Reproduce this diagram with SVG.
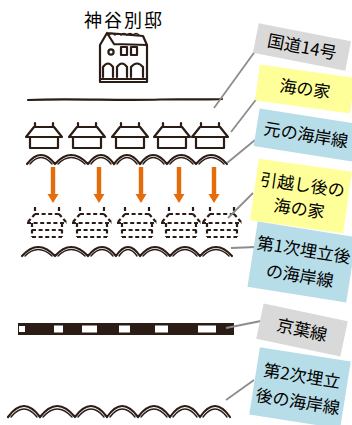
<svg xmlns="http://www.w3.org/2000/svg" width="352" height="425" viewBox="0 0 352 425">
  <style>
    .ink { fill: none; stroke: #2b1d16; stroke-width: 2.2; stroke-linecap: round; stroke-linejoin: round; }
    .thin { fill: none; stroke: #2b1d16; stroke-width: 1.4; stroke-linecap: round; }
    .dash { fill: none; stroke: #2b1d16; stroke-width: 2.2; stroke-dasharray: 4 2.6; stroke-linecap: butt; }
    .lead { fill: none; stroke: #8c8c8c; stroke-width: 1.8; }
    .arrow { fill: #e46c0a; }
    .lbl { font-family: "Noto Sans CJK JP", "Noto Sans", sans-serif; font-size: 17px; fill: #000; text-anchor: middle; }
    .gray { fill: #d9d9d9; }
    .yel { fill: #ffff99; }
    .blue { fill: #b7dde8; }
  </style>
  <defs>
    <!-- beach hut drawn with solid strokes -->
    <g id="hut">
      <path class="ink" d="M-9,123 L-9,127 M9,123 L9,127 M-10,127 L10,127 M-10,127 L-18,137 M10,127 L18,137 M-18,137 L18,137 M-14,137 L-14,148 M14,137 L14,148 M-14,148 L14,148"/>
    </g>
    <!-- relocated beach hut drawn dashed -->
    <g id="hutDash">
      <path class="dash" d="M-12,207 L-12,214 M12,207 L12,214 M-12,214 L12,214 M-12,214 L-20,223 M12,214 L20,223 M-20,223 L20,223 M-15,223 L-15,237 M15,223 L15,237 M-15,230 L15,230 M-15,237 L15,237"/>
    </g>
    <g id="arr">
      <rect x="-2.2" y="167" width="4.4" height="28" class="arrow"/>
      <polygon points="-5.5,194 5.5,194 0,203" class="arrow"/>
    </g>
  </defs>

  <rect width="352" height="425" fill="#fff"/>

  <!-- villa -->
  <g id="villa">
    <text x="124" y="27" font-family="Noto Sans CJK JP, sans-serif" font-size="18" letter-spacing="2" text-anchor="middle" fill="#000">神谷別邸</text>
    <path class="ink" d="M100,82 L100,45 L107,33 L114,44 M107,33 L143,36 L147,45 L147,82 M114,44 L147,45 M100,82 L147,82 M100,79 L147,79"/>
    <path class="thin" d="M109,35 q3,-3 6,0 q3,-3 6,0 q3,-3 6,0 q3,-3 6,0 q3,-3 6,0"/>
    <circle cx="111" cy="52" r="2.6" class="ink"/>
    <rect x="121" y="47" width="6" height="8" class="ink"/>
    <rect x="131" y="47" width="6" height="8" class="ink"/>
    <path class="ink" d="M103,77 L103,67 Q108,60 113,67 L113,77 M117,77 L117,67 Q122,60 127,67 L127,77 M131,77 L131,67 Q137,60 143,67 L143,77"/>
  </g>

  <!-- national road 14 -->
  <g id="road">
    <path class="ink" d="M28,100 C70,98 120,101 160,99.5 C190,99 210,100 222,99" stroke-width="2.6"/>
  </g>

  <!-- beach huts, original position -->
  <g id="huts">
    <use href="#hut" x="44"/>
    <use href="#hut" x="87"/>
    <use href="#hut" x="130"/>
    <use href="#hut" x="172"/>
    <use href="#hut" x="210"/>
  </g>

  <!-- original shoreline -->
  <g id="shore0">
    <path class="ink" d="M27,164 Q41,146 55,164 Q71,146 88,164 Q101,146 114,164 Q127,146 140,164 Q153,146 167,164 Q181,146 196,164 Q211,146 227,164"/>
    <path class="thin" d="M30,164 Q41,151 52,164 M58,164 Q71,151 85,164 M91,164 Q101,151 111,164 M117,164 Q127,151 137,164 M143,164 Q153,151 164,164 M170,164 Q181,151 193,164 M199,164 Q211,151 224,164"/>
  </g>

  <!-- relocation arrows -->
  <g id="arrows">
    <use href="#arr" x="53"/>
    <use href="#arr" x="99"/>
    <use href="#arr" x="141"/>
    <use href="#arr" x="179"/>
    <use href="#arr" x="214"/>
  </g>

  <!-- beach huts after relocation -->
  <g id="hutsMoved">
    <use href="#hutDash" x="47"/>
    <use href="#hutDash" x="92"/>
    <use href="#hutDash" x="137"/>
    <use href="#hutDash" x="181"/>
    <use href="#hutDash" x="222"/>
  </g>

  <!-- shoreline after first reclamation -->
  <g id="shore1">
    <path class="ink" d="M22,256 Q38,238 55,256 Q71,238 88,256 Q102,238 116,256 Q128,238 140,256 Q155,238 170,256 Q185,238 200,256 Q216,238 232,256"/>
    <path class="thin" d="M25,256 Q38,243 52,256 M58,256 Q71,243 85,256 M91,256 Q102,243 113,256 M119,256 Q128,243 137,256 M143,256 Q155,243 167,256 M173,256 Q185,243 197,256 M203,256 Q216,243 229,256"/>
  </g>

  <!-- Keiyo line -->
  <g id="rail">
    <rect x="18" y="323" width="216" height="12" fill="#2b1d16"/>
    <rect x="19" y="326" width="6" height="6" fill="#fff"/>
    <rect x="54" y="325.5" width="9" height="7" fill="#fff"/>
    <rect x="82" y="325.5" width="15" height="7" fill="#fff"/>
    <rect x="119" y="325.5" width="11" height="7" fill="#fff"/>
    <rect x="155" y="325.5" width="13" height="7" fill="#fff"/>
    <rect x="198" y="325.5" width="18" height="7" fill="#fff"/>
  </g>

  <!-- shoreline after second reclamation -->
  <g id="shore2">
    <path class="ink" d="M8,417 Q24,395 40,417 Q57,395 75,417 Q91,395 107,417 Q122,395 138,417 Q154,395 170,417 Q185,395 200,417 Q215,395 230,417"/>
    <path class="thin" d="M11,417 Q24,401 37,417 M43,417 Q57,401 72,417 M78,417 Q91,401 104,417 M110,417 Q122,401 135,417 M141,417 Q154,401 167,417 M173,417 Q185,401 197,417 M203,417 Q215,401 227,417"/>
  </g>

  <!-- leader lines -->
  <g id="leaders">
    <path class="lead" d="M214,108 L256,50"/>
    <path class="lead" d="M258,97 L231,132"/>
    <path class="lead" d="M255,140 L227,163"/>
    <path class="lead" d="M253,193 L228,218"/>
    <path class="lead" d="M231,248 L256,247"/>
    <path class="lead" d="M226,328 L261,321"/>
    <path class="lead" d="M226,400 L254,380"/>
  </g>

  <!-- labels -->
  <g id="lbl-road" transform="translate(302,47) rotate(11)">
    <rect x="-47" y="-15" width="94" height="30" class="gray"/>
    <text class="lbl" y="6">国道14号</text>
  </g>
  <g id="lbl-huts" transform="translate(305,89) rotate(8)">
    <rect x="-48" y="-18" width="96" height="36" class="yel"/>
    <text class="lbl" y="6">海の家</text>
  </g>
  <g id="lbl-shore0" transform="translate(306,135) rotate(9)">
    <rect x="-50" y="-19" width="100" height="38" class="blue"/>
    <text class="lbl" y="6">元の海岸線</text>
  </g>
  <g id="lbl-moved" transform="translate(301,196) rotate(8)">
    <rect x="-47" y="-31" width="94" height="62" class="yel"/>
    <text class="lbl" y="-5">引越し後の</text>
    <text class="lbl" y="19">海の家</text>
  </g>
  <g id="lbl-shore1" transform="translate(302,262) rotate(9)">
    <rect x="-50" y="-33" width="100" height="66" class="blue"/>
    <text class="lbl" y="-6" font-size="16">第1次埋立後</text>
    <text class="lbl" y="20">の海岸線</text>
  </g>
  <g id="lbl-rail" transform="translate(302,330) rotate(12)">
    <rect x="-43" y="-18" width="86" height="36" class="gray"/>
    <text class="lbl" y="6">京葉線</text>
  </g>
  <g id="lbl-shore2" transform="translate(300,388) rotate(9)">
    <rect x="-46" y="-34" width="92" height="68" class="blue"/>
    <text class="lbl" y="-6">第2次埋立</text>
    <text class="lbl" y="20">後の海岸線</text>
  </g>
</svg>
